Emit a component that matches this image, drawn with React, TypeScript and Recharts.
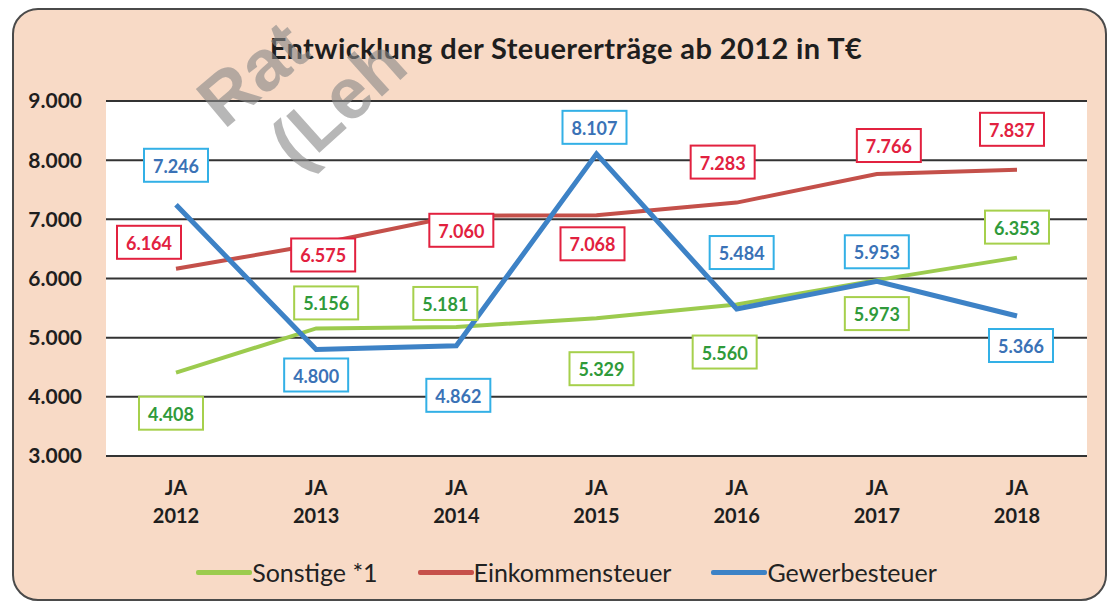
import React from 'react';
import { LineChart, Line, XAxis, YAxis, CartesianGrid } from 'recharts';

const years = ['2012', '2013', '2014', '2015', '2016', '2017', '2018'];
const sonstige = [4408, 5156, 5181, 5329, 5560, 5973, 6353];
const einkommen = [6164, 6575, 7060, 7068, 7283, 7766, 7837];
const gewerbe = [7246, 4800, 4862, 8107, 5484, 5953, 5366];
const yTicks = [3000, 4000, 5000, 6000, 7000, 8000, 9000];

const data = years.map((y, i) => ({
  name: `JA ${y}`,
  sonstige: sonstige[i],
  einkommen: einkommen[i],
  gewerbe: gewerbe[i],
}));

// where each value box sits relative to its point, [dx, dy]
const shiftSonstige = [[-5, 40], [10, -26], [-11, -24], [5, 50], [-12, 47], [0, 33], [0, -31]];
const shiftEinkommen = [[-27, -27], [7, 10], [5, 14], [-4, 28], [-14, -41], [12, -29], [-5, -41]];
const shiftGewerbe = [[0, -40], [0, 25], [2, 49], [-2, -27], [5, -57], [0, -30], [4, 29]];

const legendItems = [
  { name: 'Sonstige *1', color: '#9ccb4e' },
  { name: 'Einkommensteuer', color: '#c6504a' },
  { name: 'Gewerbesteuer', color: '#3d82c6' },
];

const FONT = 'Lato, "Open Sans", sans-serif';

const fmt = (v: number) => String(v).replace(/\B(?=(\d{3})+(?!\d))/g, '.');

const boxLabel = (shift: number[][], textColor: string, border: string) => (props: any) => {
  const { x, y, index, value } = props;
  const [dx, dy] = shift[index] || [0, -30];
  const cx = x + dx;
  const cy = y + dy;
  return (
    <g key={`lbl-${index}`}>
      <rect x={cx - 32} y={cy - 16} width={64} height={33} fill="#fff" stroke={border} strokeWidth={2} />
      <text
        x={cx}
        y={cy + 1}
        textAnchor="middle"
        dominantBaseline="central"
        fill={textColor}
        fontSize={18}
        fontWeight={700}
        fontFamily={FONT}
      >
        {fmt(value)}
      </text>
    </g>
  );
};

const YearTick = (props: any) => {
  const { x, y, payload } = props;
  const [a, b] = String(payload.value).split(' ');
  return (
    <text x={x} textAnchor="middle" fontSize={20} fontWeight={700} fill="#1e1e1e" fontFamily={FONT}>
      <tspan x={x} y={y + 39}>{a}</tspan>
      <tspan x={x} y={y + 67}>{b}</tspan>
    </text>
  );
};

export default function App() {
  return (
    <div style={{ position: 'relative', width: 1113, height: 604, background: '#fff', overflow: 'hidden' }}>
      <style>{'body{margin:0}'}</style>
      <div
        style={{
          position: 'absolute',
          left: 12,
          top: 8,
          width: 1091,
          height: 589,
          border: '2px solid #4a4a4a',
          borderRadius: 26,
          background: '#f8dac6',
        }}
      />
      <div style={{ position: 'absolute', left: 0, top: 0 }}>
        <LineChart width={1113} height={604} data={data} margin={{ top: 101, right: 26, bottom: 118, left: 16 }}>
          <CartesianGrid vertical={false} fill="#ffffff" stroke="#333" strokeWidth={2} />
          <XAxis
            dataKey="name"
            height={30}
            padding={{ left: 70, right: 70 }}
            tick={<YearTick />}
            tickLine={false}
            tickSize={0}
            tickMargin={0}
            axisLine={{ stroke: '#333', strokeWidth: 2 }}
            interval={0}
          />
          <YAxis
            width={90}
            domain={[3000, 9000]}
            ticks={yTicks}
            tickFormatter={fmt}
            axisLine={false}
            tickLine={false}
            tickSize={0}
            tickMargin={24}
            tick={{ fill: '#1e1e1e', fontSize: 21, fontWeight: 700, fontFamily: FONT }}
          />
          <Line
            dataKey="sonstige"
            name="Sonstige *1"
            stroke="#9ccb4e"
            strokeWidth={4}
            dot={false}
            isAnimationActive={false}
            label={boxLabel(shiftSonstige, '#2f9a3a', '#a6d04c')}
          />
          <Line
            dataKey="einkommen"
            name="Einkommensteuer"
            stroke="#c4504a"
            strokeWidth={4}
            dot={false}
            isAnimationActive={false}
            label={boxLabel(shiftEinkommen, '#e2213f', '#e2213f')}
          />
          <Line
            dataKey="gewerbe"
            name="Gewerbesteuer"
            stroke="#3d82c6"
            strokeWidth={5}
            dot={false}
            isAnimationActive={false}
            label={boxLabel(shiftGewerbe, '#3a72b6', '#33b0e6')}
          />
        </LineChart>
      </div>
      <div
        style={{
          position: 'absolute',
          top: 556,
          left: 0,
          width: 1113,
          display: 'flex',
          justifyContent: 'center',
          paddingLeft: 20,
          boxSizing: 'border-box',
          fontFamily: FONT,
          fontSize: 25,
          color: '#222',
          lineHeight: '32px',
        }}
      >
        {legendItems.map((e, i) => (
          <div key={e.name} style={{ display: 'flex', alignItems: 'center', marginRight: i < 2 ? 40 : 0 }}>
            <span style={{ display: 'inline-block', width: 56, height: 5, background: e.color, borderRadius: 2 }} />
            <span>{e.name}</span>
          </div>
        ))}
      </div>
      <svg width={1113} height={604} style={{ position: 'absolute', left: 0, top: 0, pointerEvents: 'none' }}>
        <text
          x={566}
          y={59}
          textAnchor="middle"
          fontSize={29}
          fontWeight={700}
          letterSpacing={0.4}
          fill="#1e1e1e"
          fontFamily={FONT}
        >
          Entwicklung der Steuererträge ab 2012 in T€
        </text>
        <g fill="#888" opacity={0.6} fontFamily='"Liberation Sans", Arial, sans-serif' fontWeight={700} fontSize={72}>
          <text x={224} y={130} transform="rotate(-40 224 130)">Rat</text>
          <text x={298} y={172} transform="rotate(-42 298 172)">(Leh</text>
        </g>
      </svg>
    </div>
  );
}
